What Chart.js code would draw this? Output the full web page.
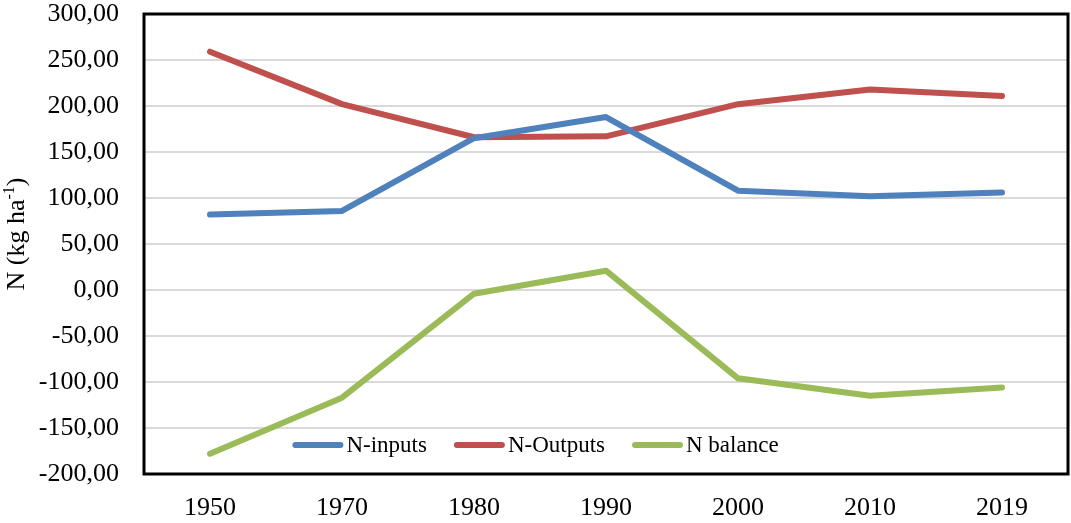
<!DOCTYPE html>
<html>
<head>
<meta charset="utf-8">
<script src="https://cdn.jsdelivr.net/npm/chart.js@4/dist/chart.umd.min.js"></script>
<style>
html,body{margin:0;padding:0;background:#fff;}
#wrap{width:1071px;height:523px;position:relative;}
</style>
</head>
<body>
<div id="wrap"><canvas id="c" width="1071" height="523"></canvas></div>
<script>
const categories = ['1950','1970','1980','1990','2000','2010','2019'];
const nInputs  = [82, 86, 165, 188, 108, 102, 106];
const nOutputs = [259, 202, 166, 167, 202, 218, 211];
const nBalance = [-178, -117, -4, 21, -96, -115, -106];
const seriesNames = ['N-inputs', 'N-Outputs', 'N balance'];
const seriesColors = ['#4F81BD', '#C0504D', '#9BBB59'];
const yMin = -200, yMax = 300, yStep = 50;

const SERIF = '"Liberation Serif", "DejaVu Serif", serif';

const boxPlugin = {
  id: 'boxPlugin',
  beforeDatasetsDraw(chart) {
    const {ctx, chartArea: a} = chart;
    ctx.save();
    ctx.strokeStyle = '#000';
    ctx.lineWidth = 3;
    ctx.strokeRect(a.left, a.top, a.right - a.left, a.bottom - a.top);
    ctx.restore();
  }
};

const legendPlugin = {
  id: 'customLegend',
  afterDatasetsDraw(chart) {
    const ctx = chart.ctx;
    ctx.save();
    ctx.font = '23px ' + SERIF;
    ctx.textBaseline = 'middle';
    const lineLen = 51, gapText = 3, gapItem = 27;
    const items = chart.data.datasets.map(d => ({label: d.label, color: d.borderColor, w: ctx.measureText(d.label).width}));
    let total = 0;
    items.forEach((it, i) => { total += lineLen + gapText + it.w + (i < items.length - 1 ? gapItem : 0); });
    let x = chart.width / 2 - total / 2;
    const y = 445;
    items.forEach(it => {
      ctx.strokeStyle = it.color;
      ctx.lineWidth = 6;
      ctx.lineCap = 'round';
      ctx.beginPath();
      ctx.moveTo(x + 3, y);
      ctx.lineTo(x + lineLen - 3, y);
      ctx.stroke();
      ctx.fillStyle = '#000';
      ctx.textAlign = 'left';
      ctx.fillText(it.label, x + lineLen + gapText, y + 1);
      x += lineLen + gapText + it.w + gapItem;
    });
    ctx.restore();
  }
};

const yTitlePlugin = {
  id: 'yTitle',
  afterDraw(chart) {
    const ctx = chart.ctx;
    ctx.save();
    const main = '26px ' + SERIF, sup = '16px ' + SERIF;
    ctx.font = main; const w1 = ctx.measureText('N (kg ha').width; const w3 = ctx.measureText(')').width;
    ctx.font = sup; const w2 = ctx.measureText('-1').width;
    const total = w1 + w2 + w3;
    ctx.translate(15, 234);
    ctx.rotate(-Math.PI / 2);
    ctx.fillStyle = '#000';
    ctx.textBaseline = 'alphabetic';
    ctx.textAlign = 'left';
    let x = -total / 2;
    ctx.font = main; ctx.fillText('N (kg ha', x, 9); x += w1;
    ctx.font = sup; ctx.fillText('-1', x, -1); x += w2;
    ctx.font = main; ctx.fillText(')', x, 9);
    ctx.restore();
  }
};

new Chart(document.getElementById('c'), {
  type: 'line',
  data: {
    labels: categories,
    datasets: [
      {label: seriesNames[0], data: nInputs, borderColor: seriesColors[0]},
      {label: seriesNames[1], data: nOutputs, borderColor: seriesColors[1]},
      {label: seriesNames[2], data: nBalance, borderColor: seriesColors[2]}
    ].map(d => Object.assign(d, {
      borderWidth: 6, pointRadius: 0, pointHoverRadius: 0, tension: 0, fill: false,
      borderCapStyle: 'round', borderJoinStyle: 'round', backgroundColor: d.borderColor
    }))
  },
  options: {
    responsive: false,
    animation: false,
    devicePixelRatio: 1,
    layout: {padding: {top: 14, right: 3, left: 0, bottom: 0}},
    plugins: {legend: {display: false}, tooltip: {enabled: false}},
    scales: {
      x: {
        offset: true,
        grid: {display: false, offset: true},
        border: {display: false},
        ticks: {font: {family: SERIF, size: 26}, color: '#000', padding: 11, maxRotation: 0},
        afterFit(s) { s.height = 49; s.paddingLeft = 0; s.paddingRight = 0; }
      },
      y: {
        min: yMin, max: yMax,
        grid: {
          color: (c) => (c.tick && (c.tick.value === yMin || c.tick.value === yMax)) ? 'rgba(0,0,0,0)' : '#D9D9D9',
          lineWidth: 2, drawTicks: false
        },
        border: {display: false},
        ticks: {
          stepSize: yStep, font: {family: SERIF, size: 26}, color: '#000', padding: 25,
          callback: (v) => v.toFixed(2).replace('.', ',')
        },
        afterFit(s) { s.width = 144; s.paddingTop = 0; s.paddingBottom = 0; }
      }
    }
  },
  plugins: [boxPlugin, legendPlugin, yTitlePlugin]
});
</script>
</body>
</html>
